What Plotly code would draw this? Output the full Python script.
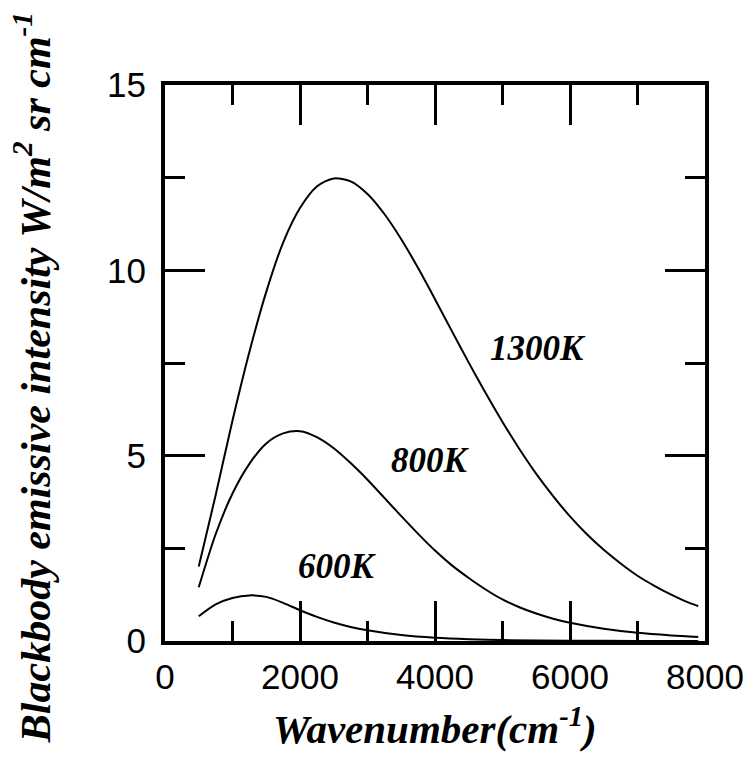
import plotly.graph_objects as go

# Wavenumber (cm^-1) and intensity readings for each curve
wn_1300 = [500, 750, 1000, 1250, 1500, 1750, 2000, 2250, 2500, 2750, 3000, 3250,
           3500, 3750, 4000, 4250, 4500, 4750, 5000, 5250, 5500, 5750, 6000, 6250,
           6500, 6750, 7000, 7250, 7500, 7750, 7900]
i_1300 = [2.01, 3.93, 5.95, 7.8, 9.42, 10.75, 11.68, 12.26, 12.48, 12.4, 12.06, 11.52,
          10.84, 10.06, 9.22, 8.36, 7.51, 6.69, 5.91, 5.18, 4.51, 3.91, 3.36, 2.88,
          2.46, 2.09, 1.76, 1.49, 1.25, 1.04, 0.94]

wn_800 = [500, 750, 1000, 1250, 1500, 1750, 2000, 2250, 2500, 2750, 3000, 3250,
          3500, 3750, 4000, 4250, 4500, 4750, 5000, 5250, 5500, 5750, 6000, 6500,
          7000, 7500, 7900]
i_800 = [1.45, 2.88, 3.98, 4.78, 5.33, 5.6, 5.66, 5.5, 5.2, 4.8, 4.35, 3.86,
         3.37, 2.89, 2.44, 2.04, 1.7, 1.39, 1.12, 0.91, 0.74, 0.6, 0.49, 0.33,
         0.22, 0.15, 0.11]

wn_600 = [500, 750, 1000, 1250, 1500, 1750, 2000, 2250, 2500, 2750, 3000, 3500,
          4000, 4500, 5000, 6000, 7000, 7900]
i_600 = [0.67, 0.99, 1.16, 1.23, 1.19, 1.03, 0.83, 0.65, 0.5, 0.38, 0.29, 0.16,
         0.085, 0.045, 0.025, 0.008, 0.003, 0.001]

curve_labels = ["1300K", "800K", "600K"]
label_x = [5520, 3940, 2560]
label_y = [7.9, 4.87, 2.0]

x_ticks = [0, 2000, 4000, 6000, 8000]
y_ticks = [0, 5, 10, 15]

fig = go.Figure()
for xs, ys in [(wn_1300, i_1300), (wn_800, i_800), (wn_600, i_600)]:
    fig.add_trace(go.Scatter(x=xs, y=ys, mode="lines",
                             line=dict(color="black", width=2, shape="spline", smoothing=0.8),
                             showlegend=False, hoverinfo="skip"))

serif = "Liberation Serif, Times New Roman, serif"
for t, lx, ly in zip(curve_labels, label_x, label_y):
    fig.add_annotation(x=lx, y=ly, text="<b><i>%s</i></b>" % t, showarrow=False,
                       font=dict(family=serif, size=35, color="black"),
                       xanchor="center", yanchor="middle")

fig.add_annotation(xref="paper", yref="paper", x=0.5, y=-0.152,
                   text="<b><i>Wavenumber(cm<sup>-1</sup>)</i></b>", showarrow=False,
                   font=dict(family=serif, size=41, color="black"),
                   xanchor="center", yanchor="middle")
fig.add_annotation(xref="paper", yref="paper", x=-0.245, y=0.474, textangle=-90,
                   text="<b><i>Blackbody emissive intensity W/m<sup>2</sup> sr cm<sup>-1</sup></i></b>",
                   showarrow=False,
                   font=dict(family=serif, size=42, color="black"),
                   xanchor="center", yanchor="middle")

axis_common = dict(showline=True, linecolor="black", linewidth=4, mirror="ticks",
                   ticks="inside", ticklen=40, tickwidth=3, tickcolor="black",
                   showgrid=False, zeroline=False,
                   tickfont=dict(family="Liberation Sans, Arial, sans-serif", size=35, color="black"))

fig.update_xaxes(range=[0, 8000], tickvals=x_ticks, ticklabelstandoff=2,
                 minor=dict(dtick=1000, ticks="inside", ticklen=20, tickwidth=3,
                            tickcolor="black", showgrid=False),
                 **axis_common)
fig.update_yaxes(range=[0, 15], tickvals=y_ticks, ticklabelstandoff=8,
                 minor=dict(dtick=2.5, ticks="inside", ticklen=20, tickwidth=3,
                            tickcolor="black", showgrid=False),
                 **axis_common)

fig.update_layout(width=756, height=758,
                  margin=dict(l=165, r=43, t=85, b=117),
                  plot_bgcolor="white", paper_bgcolor="white")

fig.write_html("out.html")
